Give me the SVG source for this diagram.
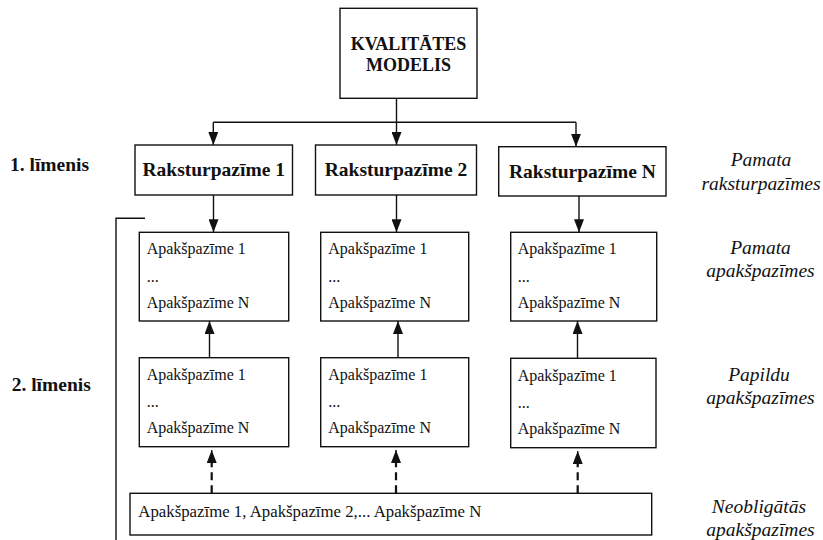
<svg xmlns="http://www.w3.org/2000/svg" width="823" height="540" viewBox="0 0 823 540">
  <style>
    .box { fill: #ffffff; stroke: #111111; stroke-width: 1.4; }
    .line { fill: none; stroke: #111111; stroke-width: 1.4; }
    .dash { fill: none; stroke: #111111; stroke-width: 2.2; stroke-dasharray: 8 5; }
    .t { font-family: "Liberation Serif", "Times New Roman", serif; fill: #111111; }
    .hdr { font-size: 18px; font-weight: bold; text-anchor: middle; }
    .feat { font-size: 19.5px; font-weight: bold; text-anchor: middle; }
    .lvl { font-size: 19.5px; font-weight: bold; }
    .sub { font-size: 16px; }
    .note { font-size: 19.5px; font-style: italic; text-anchor: middle; }
  </style>
  <defs>
    <marker id="arrow" viewBox="0 0 13 10" refX="13" refY="5" markerWidth="13" markerHeight="10" markerUnits="userSpaceOnUse" orient="auto">
      <path d="M0,0 L13,5 L0,10 z" fill="#111111"/>
    </marker>
  </defs>

  <rect width="823" height="540" fill="#ffffff"/>

  <!-- connectors -->
  <g id="connectors">
    <path class="line" d="M396.5,98.3 V122.3"/>
    <path class="line" d="M213.3,122.3 H576"/>
    <path class="line" marker-end="url(#arrow)" d="M213.3,122.3 V145"/>
    <path class="line" marker-end="url(#arrow)" d="M396.5,122.3 V145"/>
    <path class="line" marker-end="url(#arrow)" d="M576,122.3 V146.7"/>

    <path class="line" marker-end="url(#arrow)" d="M213.5,195 V232.3"/>
    <path class="line" marker-end="url(#arrow)" d="M396.5,195 V232.3"/>
    <path class="line" marker-end="url(#arrow)" d="M579,196 V232.3"/>

    <path class="line" marker-end="url(#arrow)" d="M209.5,357.7 V321"/>
    <path class="line" marker-end="url(#arrow)" d="M398,357.7 V321"/>
    <path class="line" marker-end="url(#arrow)" d="M577.5,358.3 V321"/>

    <path class="dash" d="M211.7,493.3 V462"/>
    <path class="dash" d="M396,493.3 V462"/>
    <path class="dash" d="M577.7,493.3 V463"/>
    <path class="line" marker-end="url(#arrow)" d="M211.7,464 V450"/>
    <path class="line" marker-end="url(#arrow)" d="M396,464 V450"/>
    <path class="line" marker-end="url(#arrow)" d="M577.7,465 V451"/>

    <!-- level 2 bracket -->
    <path class="line" d="M145,218.3 H116 V540"/>
  </g>

  <!-- root -->
  <g id="model">
    <rect class="box" x="340" y="8.3" width="137" height="90"/>
    <text class="t hdr" x="408.5" y="50">KVALITĀTES</text>
    <text class="t hdr" x="408.5" y="70.7">MODELIS</text>
  </g>

  <!-- level 1 -->
  <g id="feature1">
    <rect class="box" x="135" y="145" width="157.5" height="50"/>
    <text class="t feat" x="213.7" y="176">Raksturpazīme 1</text>
  </g>
  <g id="feature2">
    <rect class="box" x="315.5" y="145" width="161" height="50"/>
    <text class="t feat" x="396" y="176">Raksturpazīme 2</text>
  </g>
  <g id="featureN">
    <rect class="box" x="498.7" y="146.7" width="167.3" height="49.3"/>
    <text class="t feat" x="582.4" y="178">Raksturpazīme N</text>
  </g>

  <!-- level 2: basic sub-characteristics -->
  <g id="basic1">
    <rect class="box" x="139.3" y="232.3" width="149.4" height="88.7"/>
    <text class="t sub" x="146.7" y="254">Apakšpazīme 1</text>
    <text class="t sub" x="146.7" y="281.5">...</text>
    <text class="t sub" x="146.7" y="308">Apakšpazīme N</text>
  </g>
  <g id="basic2">
    <rect class="box" x="320.7" y="232.3" width="148" height="88.7"/>
    <text class="t sub" x="328.3" y="254">Apakšpazīme 1</text>
    <text class="t sub" x="328.3" y="281.5">...</text>
    <text class="t sub" x="328.3" y="308">Apakšpazīme N</text>
  </g>
  <g id="basicN">
    <rect class="box" x="510.7" y="232.3" width="146" height="88.7"/>
    <text class="t sub" x="517.7" y="254">Apakšpazīme 1</text>
    <text class="t sub" x="517.7" y="281.5">...</text>
    <text class="t sub" x="517.7" y="308">Apakšpazīme N</text>
  </g>

  <!-- level 2: additional sub-characteristics -->
  <g id="extra1">
    <rect class="box" x="139.3" y="357.7" width="149.4" height="89"/>
    <text class="t sub" x="146.7" y="380">Apakšpazīme 1</text>
    <text class="t sub" x="146.7" y="407">...</text>
    <text class="t sub" x="146.7" y="433">Apakšpazīme N</text>
  </g>
  <g id="extra2">
    <rect class="box" x="320.7" y="357.7" width="148" height="89"/>
    <text class="t sub" x="328.3" y="380">Apakšpazīme 1</text>
    <text class="t sub" x="328.3" y="407">...</text>
    <text class="t sub" x="328.3" y="433">Apakšpazīme N</text>
  </g>
  <g id="extraN">
    <rect class="box" x="510.7" y="358.3" width="145.3" height="89.4"/>
    <text class="t sub" x="517.7" y="380.5">Apakšpazīme 1</text>
    <text class="t sub" x="517.7" y="407.5">...</text>
    <text class="t sub" x="517.7" y="433.5">Apakšpazīme N</text>
  </g>

  <!-- optional sub-characteristics -->
  <g id="optional">
    <rect class="box" x="130" y="493.3" width="521.7" height="41.7"/>
    <text class="t sub" x="138.3" y="516.7" style="font-size:16.8px">Apakšpazīme 1, Apakšpazīme 2,... Apakšpazīme N</text>
  </g>

  <!-- level labels -->
  <g id="levels">
    <text class="t lvl" x="10" y="171">1. līmenis</text>
    <text class="t lvl" x="11.7" y="391">2. līmenis</text>
  </g>

  <!-- side notes -->
  <g id="notes">
    <text class="t note" x="761" y="166">Pamata</text>
    <text class="t note" x="761" y="189.5">raksturpazīmes</text>
    <text class="t note" x="760.5" y="254">Pamata</text>
    <text class="t note" x="760.5" y="277">apakšpazīmes</text>
    <text class="t note" x="759" y="381">Papildu</text>
    <text class="t note" x="760.5" y="404">apakšpazīmes</text>
    <text class="t note" x="759" y="513">Neobligātās</text>
    <text class="t note" x="760.5" y="535.5">apakšpazīmes</text>
  </g>
</svg>
